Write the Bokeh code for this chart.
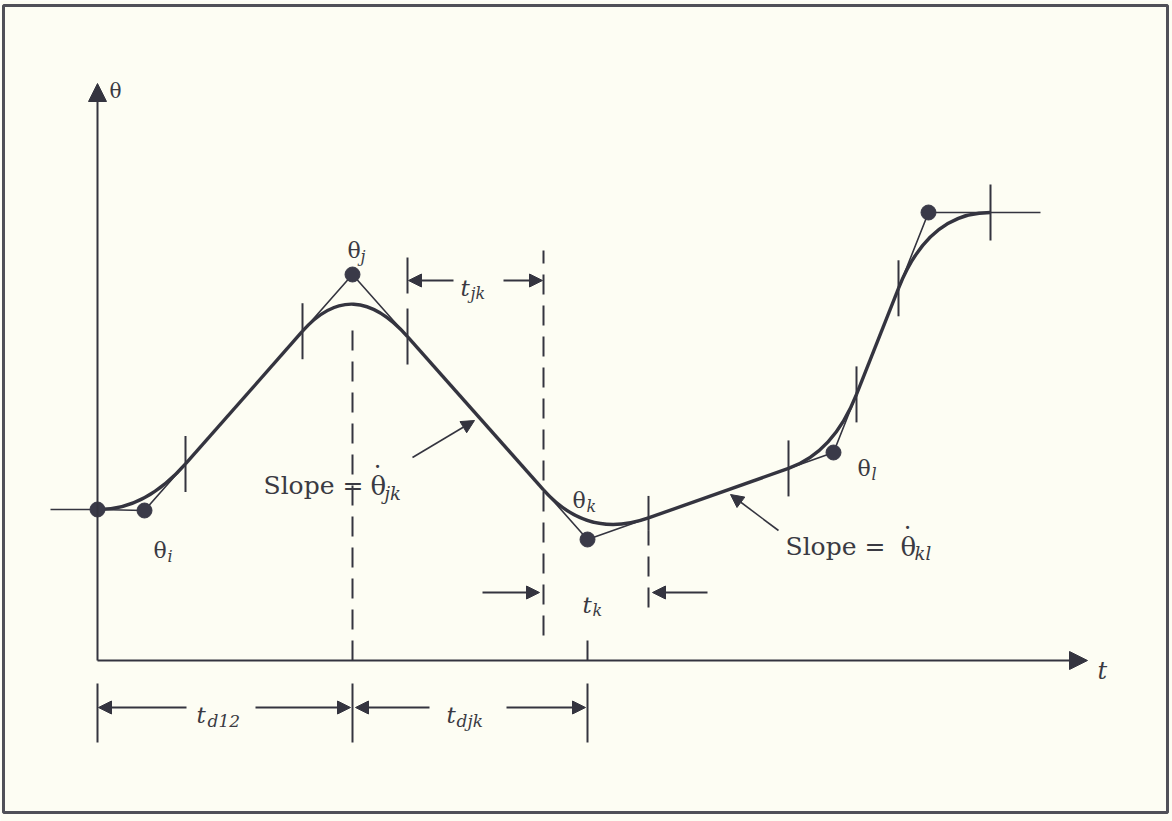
import numpy as np
from bokeh.plotting import figure
from bokeh.models import Range1d, Arrow, NormalHead
from bokeh.core.properties import value
from bokeh.embed import file_html
from bokeh.resources import INLINE

# ---- data (t, theta) ----
# knots: theta_1, theta_i, theta_j, theta_k, theta_l, theta_f, end of final hold
knot_t = [0, 47, 255, 490, 736, 831, 943]
knot_theta = [151, 150, 386, 121, 208, 448, 448]
lead_in_t = -47
# parabolic blend intervals around knots 1..5
blend_lo = [0, 205, 446, 691, 801]
blend_hi = [88, 310, 551, 759, 893]
# time marks
t_j, t_k_mark = 255, 490
t_k_start, t_k_end = 446, 551

INK = "#34343f"
TXT = "#3a3a42"
BG = "#fdfdf3"
FONT = value("DejaVu Serif")

p = figure(width=1172, height=821, x_range=Range1d(-97, 1075), y_range=Range1d(-161, 660),
           output_backend="svg", toolbar_location=None, min_border=0)
p.axis.visible = False
p.grid.visible = False
p.outline_line_color = None
p.background_fill_color = BG
p.border_fill_color = BG

# frame
p.quad(left=-94, right=1070, top=655, bottom=-152, fill_color=None, line_color="#505058", line_width=3)

kt = np.array(knot_t, float)
kth = np.array(knot_theta, float)
lo = np.array(blend_lo, float)
hi = np.array(blend_hi, float)
lo_th = np.interp(lo, kt, kth)
hi_th = np.interp(hi, kt, kth)

# thin straight-line path through the via points
p.line([lead_in_t] + knot_t, [knot_theta[0]] + knot_theta, line_color=INK, line_width=1.6)

# thick blended trajectory: parabolic blends + linear segments
p.quadratic(x0=lo, y0=lo_th, x1=hi, y1=hi_th, cx=kt[1:6], cy=kth[1:6],
            line_color=INK, line_width=3.4)
p.segment(x0=hi[:-1], y0=hi_th[:-1], x1=lo[1:], y1=lo_th[1:], line_color=INK, line_width=3.4)

# via point dots
p.scatter(knot_t[:6], knot_theta[:6], size=15, fill_color="#3a3a48", line_color="#3a3a48")

# blend tick marks
tick_t = [88, 205, 310, 691, 759, 801, 893]
tick_c = np.interp(tick_t, kt, kth)
p.segment(x0=tick_t, y0=tick_c - 28, x1=tick_t, y1=tick_c + 28, line_color=INK, line_width=2)
# tick at end of blend k (solid part)
ck = np.interp(t_k_end, kt, kth)
p.segment(x0=[t_k_end], y0=[ck - 13], x1=[t_k_end], y1=[ck + 22], line_color=INK, line_width=2)
# upper extension at t=310 for t_jk dimension
p.segment(x0=[310], y0=[367], x1=[310], y1=[403], line_color=INK, line_width=2)

# dashed guide lines
p.segment(x0=[t_j, t_k_start, t_k_end], y0=[0, 25, 53], x1=[t_j, t_k_start, t_k_end], y1=[340, 410, ck - 13],
          line_color=INK, line_width=2, line_dash="20 11")

# axis tick at t_k and bottom dimension ticks
p.segment(x0=[t_k_mark], y0=[0], x1=[t_k_mark], y1=[20], line_color=INK, line_width=2)
p.segment(x0=[0, t_j, t_k_mark], y0=[-23] * 3, x1=[0, t_j, t_k_mark], y1=[-82] * 3,
          line_color=INK, line_width=2)

def arrow(x0, y0, x1, y1, size=13, lw=2):
    p.add_layout(Arrow(x_start=x0, y_start=y0, x_end=x1, y_end=y1, line_color=INK, line_width=lw,
                       end=NormalHead(size=size, fill_color=INK, line_color=INK)))

# axes
arrow(0, 0, 0, 577, size=18, lw=2)
arrow(0, 0, 990, 0, size=18, lw=2)

# dimension arrows
arrow(356, 380, 311, 380)
arrow(406, 380, 445, 380)
arrow(385, 68, 442, 68)
arrow(610, 68, 555, 68)
arrow(89, -47, 1, -47)
arrow(158, -47, 253, -47)
arrow(332, -47, 258, -47)
arrow(409, -47, 488, -47)
# slope pointers
arrow(315, 203, 377, 240, lw=1.6)
arrow(681, 130, 633, 166, lw=1.6)

def txt(x, y, s, size, style="normal", align="left"):
    p.text(x=[x], y=[y], text=[s], text_font=FONT, text_font_size=f"{size}px",
           text_font_style=style, text_color=TXT, text_align=align, text_baseline="alphabetic")

# axis labels
txt(12, 570, "θ", 20)
txt(1000, -10, "t", 24, "italic")

# via point labels
txt(250, 410, "θ", 22); txt(263, 404, "j", 16, "italic")
txt(56, 110, "θ", 22); txt(70, 104, "i", 16, "italic")
txt(475, 160, "θ", 22); txt(489, 154, "k", 16, "italic")
txt(760, 192, "θ", 22); txt(774, 186, "l", 16, "italic")

# slope labels (theta with a dot above, i.e. a velocity)
txt(166, 175, "Slope =", 25)
txt(273, 175, "θ", 26)
txt(280, 202, ".", 24, align="center")
txt(287, 167, "jk", 18, "italic")

txt(688, 114, "Slope =", 25)
txt(803, 114, "θ", 26)
txt(810, 141, ".", 24, align="center")
txt(817, 107, "kl", 18, "italic")

# interval labels
txt(363, 373, "t", 23, "italic"); txt(373, 367, "jk", 16, "italic")
txt(485, 56, "t", 23, "italic"); txt(495, 50, "k", 16, "italic")
txt(99, -54, "t", 23, "italic"); txt(110, -60, "d12", 17, "italic")
txt(349, -54, "t", 23, "italic"); txt(359, -60, "djk", 17, "italic")

open("out.html", "w").write(file_html(p, INLINE))
